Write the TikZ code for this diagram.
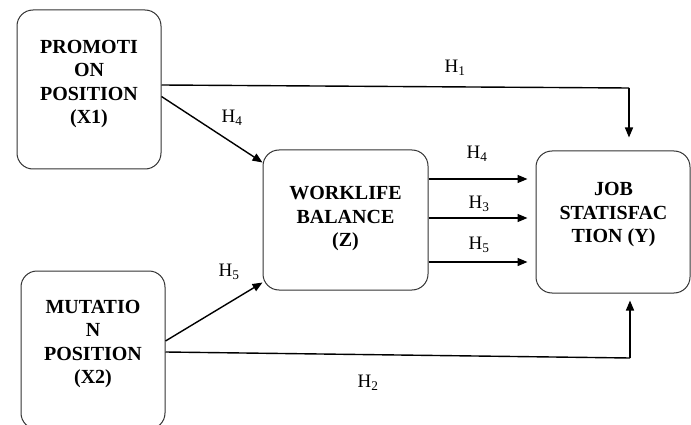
\documentclass[tikz,border=0pt]{standalone}
\usepackage{fontspec}
\setmainfont{Liberation Serif}
\usetikzlibrary{arrows.meta}
\begin{document}
\begin{tikzpicture}[x=1pt,y=-1pt,
  box/.style={draw=black!80,line width=1pt,rounded corners=16pt,minimum width=#1,inner sep=0pt},
  boxtext/.style={align=center,font=\fontsize{20}{23.5}\selectfont\bfseries,inner sep=0pt},
  hlab/.style={font=\fontsize{19}{21}\selectfont,inner sep=0pt},
  arr/.style={line width=1.4pt,-{Triangle[length=10pt,width=8pt]}},
  ln/.style={line width=1.4pt}]
\useasboundingbox (0,0) rectangle (691,425);
\begin{scope}
\clip (0,0) rectangle (691,425);
\node[box=144pt,minimum height=159pt] (x1) at (89,89.5) {};
\node[box=144pt,minimum height=158pt] (x2) at (93,350) {};
\node[box=165pt,minimum height=140pt] (z) at (345.5,220) {};
\node[box=154pt,minimum height=142pt] (y) at (613,222) {};
\end{scope}
\node[boxtext] (x1t) at (89,84) {PROMOTI\\ON\\POSITION\\(X1)};
\node[boxtext] (x2t) at (93,344) {MUTATIO\\N\\POSITION\\(X2)};
\node[boxtext] (zt) at (345.5,219) {WORKLIFE\\BALANCE\\(Z)};
\node[boxtext] (yt) at (613.5,215) {JOB\\STATISFAC\\TION (Y)};
% H1
\coordinate (c1) at (629,88);
\draw[ln] ([yshift=4.5pt]x1.east) -- (c1);
\draw[arr,shorten >=13pt] (c1) -- (c1 |- y.north);
% H2
\coordinate (c2) at (630,358);
\draw[ln] ([yshift=-2pt]x2.east) -- (c2);
\draw[arr,shorten >=7pt] (c2) -- (c2 |- y.south);
% diagonals
\draw[arr] ([yshift=-7pt]x1.east) -- ([yshift=-13pt]z.north west);
\draw[arr] ([yshift=9pt]x2.east) -- ([yshift=8pt]z.south west);
% Z -> Y
\draw[arr,shorten >=8pt] ([yshift=41pt]z.east) -- ([yshift=41pt]z.east -| y.west);
\draw[arr,shorten >=8pt] ([yshift=2pt]z.east) -- ([yshift=2pt]z.east -| y.west);
\draw[arr,shorten >=8pt] ([yshift=-42pt]z.east) -- ([yshift=-42pt]z.east -| y.west);
% labels
\node[hlab] (l1) at (455,68) {H\textsubscript{1}};
\node[hlab] (l4a) at (232,118) {H\textsubscript{4}};
\node[hlab] (l5a) at (229,272) {H\textsubscript{5}};
\node[hlab] (l2) at (368,383) {H\textsubscript{2}};
\node[hlab] (l4b) at (477,154) {H\textsubscript{4}};
\node[hlab] (l3) at (479,204) {H\textsubscript{3}};
\node[hlab] (l5b) at (479,245) {H\textsubscript{5}};
\end{tikzpicture}
\end{document}
